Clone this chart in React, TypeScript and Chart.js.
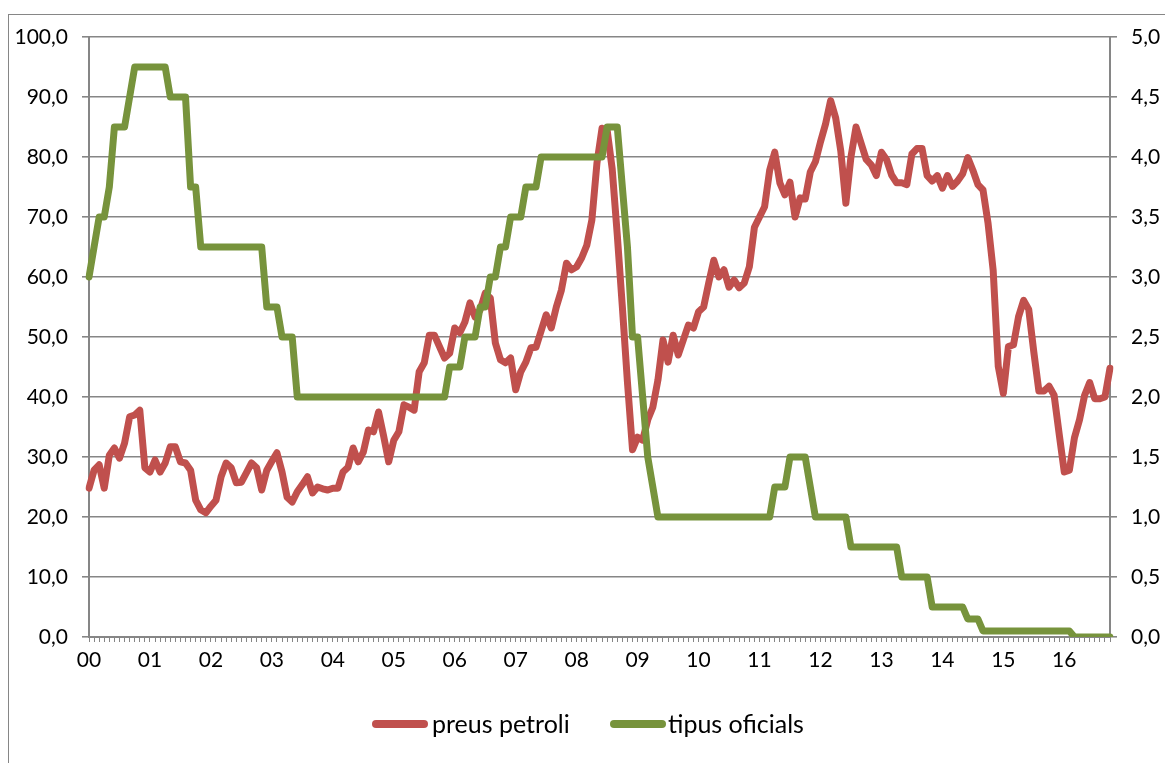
import React, { useEffect, useRef } from 'react';
import { Chart, registerables } from 'chart.js';

Chart.register(...registerables);

// Year tick labels (one per January)
const yearLabels = ['00', '01', '02', '03', '04', '05', '06', '07', '08', '09', '10', '11', '12', '13', '14', '15', '16'];
const monthsInLastYear = 10;

// Oil price (preus petroli), monthly, Jan 2000 – Oct 2016 (left axis)
const oilPrice = [
  24.8, 27.8, 28.7, 24.8, 30.3, 31.5, 29.8, 32.3, 36.7, 37.0, 37.8, 28.2, // 2000
  27.5, 29.5, 27.5, 29.0, 31.7, 31.7, 29.2, 29.0, 27.8, 22.8, 21.2, 20.7, // 2001
  21.8, 22.8, 26.7, 29.0, 28.2, 25.7, 25.8, 27.4, 29.0, 28.2, 24.5, 27.8, // 2002
  29.3, 30.7, 27.5, 23.3, 22.5, 24.2, 25.4, 26.7, 24.0, 25.0, 24.7, 24.5, // 2003
  24.8, 24.8, 27.5, 28.3, 31.5, 29.2, 30.8, 34.5, 34.2, 37.5, 33.5, 29.2, // 2004
  32.8, 34.2, 38.7, 38.3, 37.8, 44.2, 45.7, 50.3, 50.3, 48.4, 46.5, 47.3, // 2005
  51.5, 50.7, 52.5, 55.7, 53.3, 54.5, 57.3, 56.5, 49.0, 46.2, 45.7, 46.5, // 2006
  41.2, 44.2, 45.8, 48.2, 48.3, 51.0, 53.7, 51.5, 55.0, 57.8, 62.3, 61.2, // 2007
  61.7, 63.2, 65.3, 69.5, 79.0, 84.8, 84.5, 78.0, 67.0, 55.0, 42.5, 31.2, // 2008
  33.3, 32.8, 36.2, 38.3, 42.8, 49.5, 45.8, 50.3, 47.0, 49.5, 52.0, 51.5, // 2009
  54.2, 55.0, 59.0, 62.8, 60.0, 61.2, 58.3, 59.5, 58.2, 59.0, 61.7, 68.3, // 2010
  70.0, 71.7, 77.8, 80.8, 75.7, 73.7, 75.8, 70.0, 73.2, 73.0, 77.5, 79.2, // 2011
  82.5, 85.5, 89.4, 86.5, 81.0, 72.3, 80.0, 85.0, 82.3, 79.6, 78.7, 76.9, // 2012
  80.8, 79.6, 77.0, 75.7, 75.7, 75.4, 80.5, 81.4, 81.4, 76.9, 76.0, 76.9, // 2013
  74.8, 76.9, 75.1, 76.0, 77.2, 79.9, 77.8, 75.4, 74.5, 68.9, 61.1, 45.1, // 2014
  40.6, 48.4, 48.7, 53.4, 56.1, 54.6, 47.5, 41.0, 41.0, 41.8, 40.3, 33.8, // 2015
  27.5, 27.8, 33.2, 36.2, 40.3, 42.4, 39.7, 39.7, 40.0, 44.8,             // 2016
];

// Official interest rate (tipus oficials), monthly (right axis)
const officialRate = [
  3.0, 3.25, 3.5, 3.5, 3.75, 4.25, 4.25, 4.25, 4.5, 4.75, 4.75, 4.75, // 2000
  4.75, 4.75, 4.75, 4.75, 4.5, 4.5, 4.5, 4.5, 3.75, 3.75, 3.25, 3.25, // 2001
  3.25, 3.25, 3.25, 3.25, 3.25, 3.25, 3.25, 3.25, 3.25, 3.25, 3.25, 2.75, // 2002
  2.75, 2.75, 2.5, 2.5, 2.5, 2.0, 2.0, 2.0, 2.0, 2.0, 2.0, 2.0, // 2003
  2.0, 2.0, 2.0, 2.0, 2.0, 2.0, 2.0, 2.0, 2.0, 2.0, 2.0, 2.0, // 2004
  2.0, 2.0, 2.0, 2.0, 2.0, 2.0, 2.0, 2.0, 2.0, 2.0, 2.0, 2.25, // 2005
  2.25, 2.25, 2.5, 2.5, 2.5, 2.75, 2.75, 3.0, 3.0, 3.25, 3.25, 3.5, // 2006
  3.5, 3.5, 3.75, 3.75, 3.75, 4.0, 4.0, 4.0, 4.0, 4.0, 4.0, 4.0, // 2007
  4.0, 4.0, 4.0, 4.0, 4.0, 4.0, 4.25, 4.25, 4.25, 3.75, 3.25, 2.5, // 2008
  2.5, 2.0, 1.5, 1.25, 1.0, 1.0, 1.0, 1.0, 1.0, 1.0, 1.0, 1.0, // 2009
  1.0, 1.0, 1.0, 1.0, 1.0, 1.0, 1.0, 1.0, 1.0, 1.0, 1.0, 1.0, // 2010
  1.0, 1.0, 1.0, 1.25, 1.25, 1.25, 1.5, 1.5, 1.5, 1.5, 1.25, 1.0, // 2011
  1.0, 1.0, 1.0, 1.0, 1.0, 1.0, 0.75, 0.75, 0.75, 0.75, 0.75, 0.75, // 2012
  0.75, 0.75, 0.75, 0.75, 0.5, 0.5, 0.5, 0.5, 0.5, 0.5, 0.25, 0.25, // 2013
  0.25, 0.25, 0.25, 0.25, 0.25, 0.15, 0.15, 0.15, 0.05, 0.05, 0.05, 0.05, // 2014
  0.05, 0.05, 0.05, 0.05, 0.05, 0.05, 0.05, 0.05, 0.05, 0.05, 0.05, 0.05, // 2015
  0.05, 0.05, 0.0, 0.0, 0.0, 0.0, 0.0, 0.0, 0.0, 0.0, // 2016
];

const seriesNames = ['preus petroli', 'tipus oficials'];
const seriesColors = ['#C0504D', '#77933C'];

// Monthly categories "YY-MM"
const categories: string[] = [];
yearLabels.forEach((y, yi) => {
  const n = yi === yearLabels.length - 1 ? monthsInLastYear : 12;
  for (let m = 1; m <= n; m++) categories.push(`${y}-${String(m).padStart(2, '0')}`);
});

const GRAY = '#868686';
const FONT = 'Lato, "Open Sans", sans-serif';
const fmt = (v: number) => Number(v).toFixed(1).replace('.', ',');

export default function App() {
  const canvasRef = useRef<HTMLCanvasElement | null>(null);

  useEffect(() => {
    document.body.style.margin = '0';
    document.body.style.overflow = 'hidden';
    const canvas = canvasRef.current;
    if (!canvas) return;
    const chart = new Chart(canvas, {
      type: 'line',
      data: {
        labels: categories,
        datasets: [
          {
            label: seriesNames[0],
            data: oilPrice,
            borderColor: seriesColors[0],
            backgroundColor: seriesColors[0],
            borderWidth: 7,
            borderCapStyle: 'round',
            borderJoinStyle: 'round',
            pointRadius: 0,
            tension: 0,
            yAxisID: 'y',
            order: 2,
          },
          {
            label: seriesNames[1],
            data: officialRate,
            borderColor: seriesColors[1],
            backgroundColor: seriesColors[1],
            borderWidth: 7,
            borderCapStyle: 'round',
            borderJoinStyle: 'round',
            pointRadius: 0,
            tension: 0,
            yAxisID: 'y1',
            order: 1,
          },
        ],
      },
      options: {
        animation: false,
        responsive: false,
        devicePixelRatio: 1,
        layout: { padding: { top: 37, bottom: 66, left: 0, right: 0 } },
        plugins: { legend: { display: false }, tooltip: { enabled: false } },
        scales: {
          x: {
            type: 'category',
            offset: false,
            grid: { display: true, drawOnChartArea: false, drawTicks: true, tickLength: 5, color: GRAY, lineWidth: 1 },
            border: { display: true, color: GRAY, width: 2 },
            ticks: {
              autoSkip: false,
              maxRotation: 0,
              minRotation: 0,
              padding: 6,
              color: '#000',
              font: { family: FONT, size: 21 },
              callback: (_v: any, i: number) => {
                const c = categories[i];
                return c && c.endsWith('-01') ? c.slice(0, 2) : '';
              },
            },
            afterFit: (s: any) => { s.height = 60; },
          },
          y: {
            position: 'left',
            min: 0,
            max: 100,
            grid: { color: GRAY, lineWidth: 1.6, tickLength: 7 },
            border: { display: true, color: GRAY, width: 2 },
            ticks: { stepSize: 10, padding: 14, color: '#000', font: { family: FONT, size: 21 }, callback: (v: any) => fmt(v) },
            afterFit: (s: any) => { s.width = 89; },
          },
          y1: {
            position: 'right',
            min: 0,
            max: 5,
            grid: { drawOnChartArea: false, color: GRAY, lineWidth: 1.6, tickLength: 7 },
            border: { display: true, color: GRAY, width: 2 },
            ticks: { stepSize: 0.5, padding: 14, color: '#000', font: { family: FONT, size: 21 }, callback: (v: any) => fmt(v) },
            afterFit: (s: any) => { s.width = 55; },
          },
        },
      },
    } as any);
    return () => chart.destroy();
  }, []);

  const legendText: React.CSSProperties = {
    position: 'absolute',
    top: 708,
    fontFamily: FONT,
    fontSize: 25,
    lineHeight: '30px',
    color: '#000',
    whiteSpace: 'nowrap',
  };
  const swatch = (left: number, color: string): React.CSSProperties => ({
    position: 'absolute',
    left,
    top: 720,
    width: 56,
    height: 8,
    borderRadius: 4,
    background: color,
  });

  return (
    <div style={{ position: 'relative', width: 1165, height: 763, overflow: 'hidden', background: '#fff' }}>
      <div
        style={{
          position: 'absolute',
          left: 8,
          top: 14,
          width: 1300,
          height: 900,
          borderTop: `1px solid ${GRAY}`,
          borderLeft: `1px solid ${GRAY}`,
        }}
      />
      <canvas ref={canvasRef} width={1165} height={763} style={{ position: 'absolute', left: 0, top: 0, width: 1165, height: 763 }} />
      <div style={swatch(372, seriesColors[0])} />
      <div style={{ ...legendText, left: 432 }}>{seriesNames[0]}</div>
      <div style={swatch(610, seriesColors[1])} />
      <div style={{ ...legendText, left: 668 }}>{seriesNames[1]}</div>
    </div>
  );
}
